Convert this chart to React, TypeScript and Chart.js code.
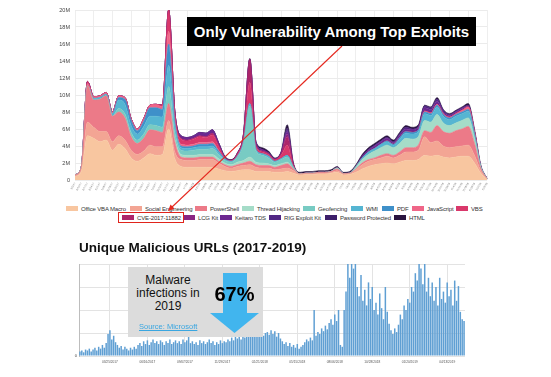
import React, { useEffect, useRef } from 'react';
import { Chart, registerables } from 'chart.js';
Chart.register(...registerables);

// ---------- Top chart: weekly stacked volumes (millions) ----------
const weekLabels = [
  '9/3/17','9/10/17','9/17/17','9/24/17','10/1/17','10/8/17','10/15/17','10/22/17','10/29/17','11/5/17',
  '11/12/17','11/19/17','11/26/17','12/3/17','12/10/17','12/17/17','12/24/17','12/31/17','1/7/18','1/14/18',
  '1/21/18','1/28/18','2/4/18','2/11/18','2/18/18','2/25/18','3/4/18','3/11/18','3/18/18','3/25/18',
  '4/1/18','4/8/18','4/15/18','4/22/18','4/29/18','5/6/18','5/13/18','5/20/18','5/27/18','6/3/18',
  '6/10/18','6/17/18','6/24/18','7/1/18','7/8/18','7/15/18','7/22/18','7/29/18','8/5/18','8/12/18',
  '8/19/18','8/26/18','9/2/18','9/9/18','9/16/18','9/23/18','9/30/18','10/7/18','10/14/18','10/21/18',
  '10/28/18','11/4/18','11/11/18','11/18/18','11/25/18','12/2/18','12/9/18'
];

const officeVBA = [
  0.4,1.0,5.2,4.9,4.5,4.7,3.5,4.2,3.7,2.6,
  2.2,2.6,3.1,2.9,3.0,6.0,2.5,1.6,1.5,1.5,
  1.5,1.5,1.5,1.3,1.1,1.0,1.1,1.2,1.2,1.0,
  1.0,1.0,0.9,0.9,1.0,0.8,0.6,0.65,0.65,0.7,
  0.7,0.8,0.9,0.6,0.65,0.9,1.3,1.6,1.8,1.9,
  2.0,1.9,2.1,2.3,2.3,2.4,2.9,2.8,2.9,2.7,
  2.6,2.7,2.8,2.8,2.0,0.8,0.1
];
const socialEng = [
  0.1,0.2,1.6,1.3,1.2,1.0,1.0,1.0,1.0,0.9,
  0.8,0.8,1.0,1.0,0.9,1.0,0.8,0.8,0.8,0.8,
  0.9,0.9,0.9,0.7,0.5,0.4,0.5,0.5,0.6,0.5,
  0.4,0.4,0.3,0.4,0.4,0.3,0.1,0.1,0.1,0.1,
  0.1,0.1,0.2,0.1,0.1,0.3,0.5,0.6,0.6,0.7,
  0.8,0.7,0.8,1.0,1.0,1.1,2.2,1.6,1.7,1.3,
  1.2,1.2,1.2,1.3,0.9,0.3,0.05
];
const powerShell = [
  0.1,0.3,4.3,3.2,3.8,4.2,3.0,2.8,2.6,1.6,
  1.3,1.5,1.8,1.9,1.7,2.0,1.2,0.3,0.3,0.3,
  0.3,0.3,0.3,0.2,0.2,0.2,0.2,0.3,0.4,0.3,
  0.3,0.3,0.3,0.4,0.5,0.2,0,0.05,0.05,0.1,
  0.1,0.1,0.2,0.05,0.05,0.1,0.2,0.2,0.2,0.3,
  0.3,0.3,0.4,0.5,0.5,0.6,0.7,1.2,1.8,1.7,
  1.7,1.9,2.0,2.2,1.4,0.3,0
];
const threadHijacking = [
  0,0,0,0,0,0,0,0,0,0,
  0,0,0,0,0,0,0.3,0.3,0.3,0.3,
  0.3,0.3,0.3,0.3,0.2,0.2,0.3,0.3,0.5,0.3,
  0.3,0.2,0.2,0.2,0.2,0,0,0,0,0,
  0,0,0.1,0,0,0.2,0.4,0.6,0.8,0.9,
  1.0,0.9,1.0,1.1,1.0,1.0,1.2,1.2,1.3,1.0,
  0.9,0.9,1.0,1.0,0.6,0.1,0
];
const geofencing = [
  0,0,0,0,0,0,0,0.4,0.5,0.5,
  0.4,0.5,0.6,0.6,0.6,2.0,0.8,0.5,0.5,0.6,
  0.6,0.6,0.7,0.5,0.3,0.3,0.6,2.0,6.0,1.3,
  0.9,0.7,0.4,0.5,0.6,0.2,0,0,0,0,
  0,0,0,0,0,0,0,0,0,0,
  0,0,0,0,0,0,0,0,0,0,
  0,0,0,0,0,0,0
];
const wmi = [
  0,0,0,0.2,0.2,0.2,0.3,1.0,1.1,0.8,
  0.7,0.9,1.0,1.1,1.2,2.5,0.8,0.3,0.3,0.3,
  0.3,0.3,0.3,0.2,0.1,0.1,0.1,0.2,0.3,0.2,
  0.2,0.2,0.1,0.1,0.2,0,0,0,0,0,
  0,0,0,0,0,0.1,0.2,0.3,0.3,0.4,
  0.4,0.3,0.5,0.6,0.6,0.6,0.8,0.8,0.9,0.8,
  0.7,0.8,0.8,0.8,0.5,0.1,0
];
const pdf = [
  0,0,0,0,0,0,0,0.3,0.6,0.6,
  0.4,0.6,1.0,1.0,0.9,2.5,0.4,0.2,0.2,0.2,
  0.3,0.3,0.3,0.2,0.1,0,0,0,0,0,
  0,0,0,0,0,0,0,0,0,0,
  0,0,0,0,0,0,0,0,0,0,
  0.1,0.1,0.2,0.2,0.2,0.2,0.2,0.2,0.2,0.2,
  0.2,0.2,0.2,0.2,0.1,0,0
];
const javaScript = [
  0,0,0.3,0.2,0.2,0.2,0.2,0.2,0.2,0.2,
  0.2,0.3,0.3,0.4,0.3,1.5,0.4,0.2,0.2,0.2,
  0.2,0.2,0.2,0.1,0,0,0,0,0,0,
  0,0,0,0,0,0,0,0,0,0,
  0,0,0,0,0,0,0,0,0,0,
  0,0,0,0,0,0,0.1,0.1,0.1,0.1,
  0.1,0.1,0.2,0.3,0.2,0,0
];
const vbs = [
  0,0,0.2,0,0,0,0,0,0,0,
  0,0,0,0,0.2,2.5,0.5,0.6,0.5,0.6,
  0.7,0.6,0.8,0.5,0.1,0.1,0.2,0.5,2.5,0.3,
  0.2,0.2,0.2,0.4,1.2,0.2,0,0,0,0,
  0,0,0,0,0,0,0,0,0,0,
  0,0,0,0,0,0,0,0,0,0,
  0,0,0,0,0,0,0
];
const cve201711882 = [
  0,0,0,0,0,0,0,0,0,0,
  0,0,0,0,0,0,0.2,0.1,0.1,0.1,
  0.1,0.1,0.2,0.1,0,0,0.1,0.4,2.7,0.2,
  0.1,0.1,0,0.2,1.0,0.1,0,0,0,0,
  0,0,0,0,0,0,0,0,0,0,
  0,0,0,0,0,0,0,0,0,0,
  0,0,0,0,0,0,0
];
const lcgKit = [
  0,0,0,0,0,0,0,0,0,0,
  0,0,0,0,0,0,0.1,0,0,0,
  0,0,0,0,0,0,0,0,0,0.1,
  0,0,0,0,0.3,0,0,0,0,0,
  0,0,0,0,0,0,0,0,0,0,
  0,0,0,0,0,0,0,0,0,0,
  0,0,0,0,0,0,0
];
const keitaroTDS = [
  0,0,0,0,0,0,0,0,0,0,
  0,0,0,0,0,0,0,0.3,0.3,0.3,
  0.4,0.4,0.4,0.3,0.1,0,0,0,0,0.2,
  0.2,0.1,0.1,0.1,0.3,0,0,0,0,0,
  0,0,0,0,0,0,0.2,0.2,0.3,0.3,
  0.3,0.2,0.3,0.3,0.3,0.3,0.4,0.4,0.4,0.2,
  0.2,0.2,0.2,0.1,0,0,0
];
const rigExploitKit = [
  0,0,0,0,0,0,0,0,0,0,
  0,0,0,0,0,0,0,0,0,0,
  0,0,0,0,0,0,0,0,0,0,
  0,0,0,0,0.2,0,0,0,0,0,
  0,0,0,0,0,0,0,0.1,0.1,0.1,
  0.1,0.1,0.1,0.2,0.1,0.1,0.2,0.2,0.2,0.2,
  0.1,0.1,0.1,0.1,0,0,0
];
const passwordProtected = [
  0,0,0,0,0,0,0,0,0,0,
  0,0,0,0,0,0,0,0,0,0,
  0,0,0,0,0,0,0,0,0,0,
  0,0,0,0,0.2,0,0,0,0,0,
  0,0,0.1,0,0,0,0,0,0,0,
  0,0,0,0,0,0,0,0,0,0,
  0,0,0,0,0,0,0
];
const html = [
  0,0,0,0,0,0,0,0,0,0,
  0,0,0,0,0,0,0,0,0,0,
  0,0,0,0,0.1,0.1,0.1,0.1,0.1,0.1,
  0.2,0.2,0.1,0.1,0.4,0.2,0.2,0.2,0.2,0.2,
  0.2,0.2,0.1,0.15,0.2,0.2,0.2,0.2,0.2,0.2,
  0.2,0.2,0.2,0.2,0.2,0.2,0.1,0.1,0.2,0.1,
  0.1,0.1,0.1,0.2,0.3,0.2,0.05
];

const seriesNames = [
  'Office VBA Macro','Social Engineering','PowerShell','Thread Hijacking','Geofencing','WMI','PDF','JavaScript','VBS',
  'CVE-2017-11882','LCG Kit','Keitaro TDS','RIG Exploit Kit','Password Protected','HTML'
];
const seriesData = [
  officeVBA, socialEng, powerShell, threadHijacking, geofencing, wmi, pdf, javaScript, vbs,
  cve201711882, lcgKit, keitaroTDS, rigExploitKit, passwordProtected, html
];
const seriesColors = [
  '#f8c6a0','#f3a594','#ec7a88','#a5dcc8','#78cbc3','#55b5d2','#3f90c9','#ef6688','#d9386b',
  '#ad266a','#8a2583','#6c2891','#512784','#3c1e6a','#29143f'
];

// legend layout (x of text start), two rows
const legendTextX = [81,145,210,257,318,366,397,427,471, 137,198,235,284,340,409];
const legendRow = [0,0,0,0,0,0,0,0,0, 1,1,1,1,1,1];

// ---------- Bottom chart: unique malicious URLs ----------
const urlTickLabels = [
  '03/25/2017','06/16/2017','09/07/2017','11/29/2017','02/21/2018',
  '05/15/2018','08/06/2018','10/28/2018','01/20/2019','04/13/2019'
];
const FIRST_TICK_BAR = 16;
const BARS_PER_TICK = 20;
const urlCounts = [
  5,6,4,7,6,8,5,7,9,6,
  10,8,12,9,14,24,28,18,22,15,
  12,9,11,7,10,8,6,9,7,10,
  8,12,14,11,16,13,17,12,15,18,
  14,16,13,17,15,12,16,14,18,13,
  15,17,14,16,13,18,15,17,21,14,
  16,13,15,12,17,14,16,13,15,18,
  14,16,12,15,13,17,14,16,15,18,
  16,20,17,22,19,21,18,23,20,24,
  21,25,22,26,23,28,24,27,22,25,
  26,23,28,24,27,21,25,19,16,13,
  15,11,14,10,12,9,13,8,10,12,
  15,18,16,20,17,50,22,26,24,30,
  27,33,29,36,40,34,45,38,50,12,
  10,50,70,100,85,120,95,110,75,65,
  88,60,72,55,80,62,75,50,58,45,
  68,52,40,75,48,35,28,24,30,26,
  34,45,40,55,50,62,58,75,70,90,
  82,120,95,78,110,70,85,65,80,60,
  75,55,85,62,70,58,80,65,72,55,
  82,60,76,48,40,38
];

const FONT = '"Liberation Sans", Arial, sans-serif';

export default function App() {
  const topRef = useRef<HTMLCanvasElement>(null);
  const botRef = useRef<HTMLCanvasElement>(null);

  useEffect(() => {
    const datasets = seriesData.map((d, k) => ({
      label: seriesNames[k],
      data: d,
      backgroundColor: seriesColors[k],
      borderColor: seriesColors[k],
      borderWidth: 0.6,
      pointRadius: 0,
      fill: k === 0 ? 'origin' : '-1',
      cubicInterpolationMode: 'monotone' as const,
    }));
    const top = new Chart(topRef.current!, {
      type: 'line',
      data: { labels: weekLabels, datasets: datasets as any },
      options: {
        responsive: false,
        animation: false,
        events: [],
        layout: { padding: { top: 10, right: 64, left: 0, bottom: 0 } },
        plugins: { legend: { display: false }, tooltip: { enabled: false } },
        scales: {
          x: {
            grid: {
              drawTicks: false,
              color: (c: any) => (c.index % 3 === 0 ? '#eeeeee' : 'rgba(0,0,0,0)'),
            },
            border: { display: false },
            ticks: {
              autoSkip: false, minRotation: 60, maxRotation: 60,
              font: { size: 2.6, family: FONT }, color: '#777', padding: 2,
            },
            afterFit: (s: any) => { s.height = 20; },
          },
          y: {
            stacked: true, min: 0, max: 20,
            grid: { drawTicks: false, color: '#ebebeb' },
            border: { display: false },
            ticks: {
              stepSize: 2,
              callback: (v: any) => (v === 0 ? '0' : v + 'M'),
              font: { size: 5.5, family: FONT }, color: '#444', padding: 5,
            },
            afterFit: (s: any) => { s.width = 75; },
          },
        },
      },
    });

    const barLabels = urlCounts.map((_, i) =>
      i >= FIRST_TICK_BAR && (i - FIRST_TICK_BAR) % BARS_PER_TICK === 0
        ? urlTickLabels[(i - FIRST_TICK_BAR) / BARS_PER_TICK] || ''
        : ''
    );
    const bot = new Chart(botRef.current!, {
      type: 'bar',
      data: {
        labels: barLabels,
        datasets: [{
          label: 'Unique Malicious URLs',
          data: urlCounts,
          backgroundColor: '#5f9fd3',
          barPercentage: 0.8,
          categoryPercentage: 1,
        }],
      },
      options: {
        responsive: false,
        animation: false,
        events: [],
        layout: { padding: { top: 6, right: 86, left: 0, bottom: 0 } },
        plugins: { legend: { display: false }, tooltip: { enabled: false } },
        scales: {
          x: {
            grid: {
              offset: false, drawTicks: false,
              color: (c: any) => (c.tick && c.tick.label ? '#e3e3e3' : 'rgba(0,0,0,0)'),
            },
            border: { display: false },
            ticks: {
              autoSkip: false, maxRotation: 0, minRotation: 0,
              font: { size: 3.2, family: FONT }, color: '#555', padding: 4,
            },
            afterFit: (s: any) => { s.height = 14; },
          },
          y: {
            min: 0, max: 100,
            grid: { drawTicks: false, color: '#e3e3e3' },
            border: { display: true, color: '#bdbdbd' },
            ticks: {
              stepSize: 25,
              callback: (v: any) => (v === 0 ? '0' : ''),
              font: { size: 4, family: FONT }, color: '#444', padding: 2,
            },
            afterFit: (s: any) => { s.width = 79; },
          },
        },
      },
    });
    return () => { top.destroy(); bot.destroy(); };
  }, []);

  return (
    <div style={{ position: 'absolute', left: 0, top: 0, width: 551, height: 377, background: '#fff', overflow: 'hidden', fontFamily: FONT }}>
      <canvas ref={topRef} width={551} height={200} style={{ position: 'absolute', left: 0, top: 0 }} />

      {/* legend */}
      {seriesNames.map((n, k) => {
        const cy = legendRow[k] === 0 ? 208.5 : 217.5;
        return (
          <React.Fragment key={n}>
            <div style={{ position: 'absolute', left: legendTextX[k] - 15, top: cy - 2.5, width: 12, height: 5, background: seriesColors[k] }} />
            <div style={{ position: 'absolute', left: legendTextX[k], top: cy - 4, height: 8, lineHeight: '8px', fontSize: 6, letterSpacing: '-0.15px', color: '#333', whiteSpace: 'nowrap' }}>{n}</div>
          </React.Fragment>
        );
      })}
      <div style={{ position: 'absolute', left: 118, top: 212, width: 66, height: 11, border: '1px solid #e0241c', boxSizing: 'border-box' }} />

      {/* annotation line */}
      <svg width={551} height={377} style={{ position: 'absolute', left: 0, top: 0, pointerEvents: 'none' }}>
        <line x1={342} y1={46} x2={171} y2={208} stroke="#e5281f" strokeWidth={1.1} />
        <polygon points="168,211 170.5,204.5 174.5,208.8" fill="#e5281f" />
      </svg>

      {/* annotation box */}
      <div style={{ position: 'absolute', left: 187, top: 17, width: 289, height: 29, background: '#000', color: '#fff', fontWeight: 'bold', fontSize: 15, display: 'flex', alignItems: 'center', justifyContent: 'center', whiteSpace: 'nowrap' }}>
        Only Vulnerability Among Top Exploits
      </div>

      {/* bottom title */}
      <div style={{ position: 'absolute', left: 79, top: 241.3, fontSize: 13.5, lineHeight: '14px', fontWeight: 'bold', color: '#111', whiteSpace: 'nowrap' }}>
        Unique Malicious URLs (2017-2019)
      </div>

      <canvas ref={botRef} width={551} height={112} style={{ position: 'absolute', left: 0, top: 258 }} />

      {/* gray info box */}
      <div style={{ position: 'absolute', left: 128, top: 267, width: 135, height: 70, background: '#dcdcdc' }} />
      <div style={{ position: 'absolute', left: 128, top: 274.3, width: 80, textAlign: 'center', fontSize: 12, lineHeight: '12.7px', color: '#111' }}>
        Malware<br />infections in<br />2019
      </div>
      <svg width={551} height={377} style={{ position: 'absolute', left: 0, top: 0, pointerEvents: 'none' }}>
        <rect x={223} y={273} width={24} height={40.5} fill="#41b5ee" />
        <polygon points="210,313 259,313 234.5,333" fill="#41b5ee" />
      </svg>
      <div style={{ position: 'absolute', left: 204.5, top: 283, width: 60, textAlign: 'center', fontSize: 20, lineHeight: '22px', fontWeight: 'bold', color: '#000' }}>
        67%
      </div>
      <div style={{ position: 'absolute', left: 139, top: 322, fontSize: 7.5, lineHeight: '9px', color: '#3aa6e0', textDecoration: 'underline', whiteSpace: 'nowrap' }}>
        Source: Microsoft
      </div>
    </div>
  );
}
